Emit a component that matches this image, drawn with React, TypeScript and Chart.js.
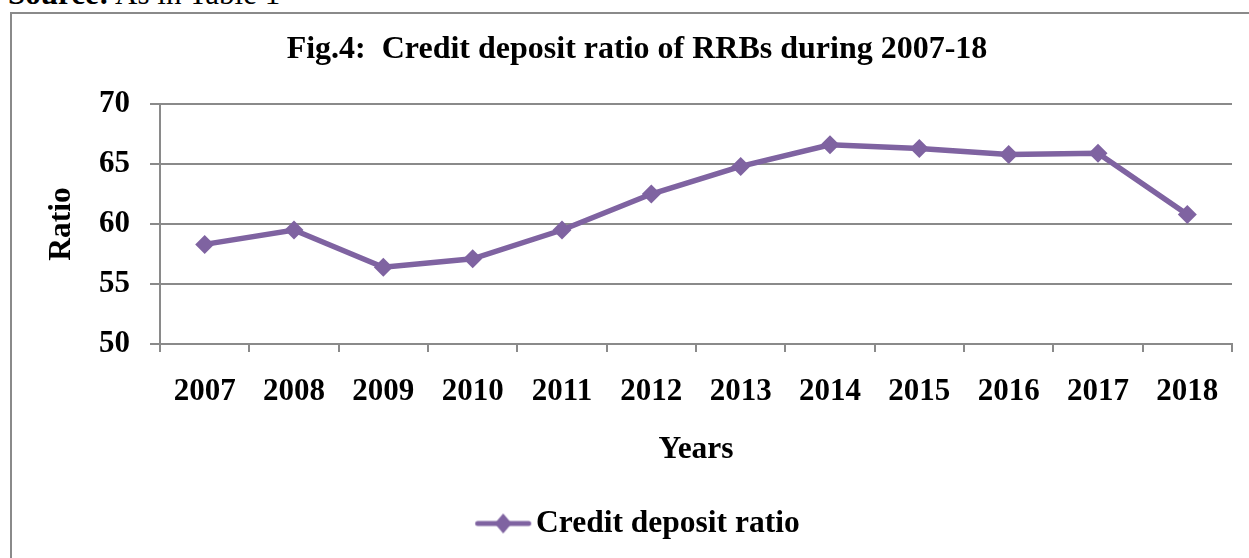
import React, { useEffect, useRef } from 'react';
import { Chart, registerables } from 'chart.js';

Chart.register(...registerables);

const years = ['2007', '2008', '2009', '2010', '2011', '2012', '2013', '2014', '2015', '2016', '2017', '2018'];
const creditDepositRatio = [58.3, 59.5, 56.4, 57.1, 59.5, 62.5, 64.8, 66.6, 66.3, 65.8, 65.9, 60.8];
const yTickValues = [50, 55, 60, 65, 70];
const seriesLabel = 'Credit deposit ratio';
const chartTitle = 'Fig.4:  Credit deposit ratio of RRBs during 2007-18';
const xAxisTitle = 'Years';
const yAxisTitle = 'Ratio';
const sourceBold = 'Source:';
const sourceRest = ' As in Table 1';

const FONT_FAMILY = '"Liberation Serif", "Times New Roman", Times, serif';
const PURPLE = '#7F63A1';
const GRID = '#8a8a8a';
const CANVAS_W = 1250;
const CANVAS_H = 544;

function makeLegendImage(): HTMLCanvasElement {
  const img = document.createElement('canvas');
  img.width = 72;
  img.height = 22;
  const c = img.getContext('2d')!;
  c.strokeStyle = PURPLE;
  c.lineWidth = 5;
  c.lineCap = 'round';
  c.beginPath();
  c.moveTo(16.4, 11);
  c.lineTo(67.4, 11);
  c.stroke();
  c.fillStyle = PURPLE;
  c.beginPath();
  c.moveTo(41.9, 1);
  c.lineTo(50.4, 11);
  c.lineTo(41.9, 21);
  c.lineTo(33.4, 11);
  c.closePath();
  c.fill();
  return img;
}

export default function App() {
  const canvasRef = useRef<HTMLCanvasElement | null>(null);

  useEffect(() => {
    if (!canvasRef.current) return;
    const legendImg = makeLegendImage();
    const tickFont = { family: FONT_FAMILY, size: 31, weight: 'bold' as const };
    const titleFont = { family: FONT_FAMILY, size: 32, weight: 'bold' as const };
    const labelFont = { family: FONT_FAMILY, size: 31.5, weight: 'bold' as const };

    const chart = new Chart(canvasRef.current, {
      type: 'line',
      data: {
        labels: years,
        datasets: [
          {
            label: seriesLabel,
            data: creditDepositRatio,
            borderColor: PURPLE,
            backgroundColor: PURPLE,
            borderWidth: 5.5,
            tension: 0,
            pointStyle: 'rectRot',
            pointRadius: 9.5,
            pointHoverRadius: 9.5,
            pointBackgroundColor: PURPLE,
            pointBorderColor: PURPLE,
            pointBorderWidth: 0,
            yAxisID: 'y',
          },
        ],
      },
      options: {
        responsive: false,
        animation: false,
        events: [],
        layout: { padding: { left: 0, right: 0, top: 0, bottom: 8.75 } },
        scales: {
          x: {
            type: 'category',
            offset: true,
            grid: {
              display: true,
              drawOnChartArea: false,
              drawTicks: true,
              tickLength: 8,
              offset: true,
              color: GRID,
              lineWidth: 2,
            },
            border: { display: true, color: GRID, width: 2 },
            ticks: {
              font: tickFont,
              color: '#000',
              padding: 21,
              maxRotation: 0,
              minRotation: 0,
              autoSkip: false,
            },
            title: {
              display: true,
              text: xAxisTitle,
              font: labelFont,
              color: '#000',
              padding: { top: 0, bottom: 28.85 },
            },
            afterFit: (s: any) => {
              s.height = 153.75;
            },
          },
          y: {
            type: 'linear',
            position: 'left',
            min: 50,
            max: 70,
            afterBuildTicks: (axis: any) => {
              axis.ticks = yTickValues.map((v) => ({ value: v }));
            },
            grid: {
              color: GRID,
              lineWidth: 2,
              drawTicks: true,
              tickLength: 10,
            },
            border: { display: true, color: GRID, width: 2 },
            ticks: {
              font: tickFont,
              color: '#000',
              padding: 20,
            },
            title: {
              display: true,
              text: yAxisTitle,
              font: labelFont,
              color: '#000',
              padding: { top: 31.3, bottom: 0 },
            },
            afterFit: (s: any) => {
              s.width = 148;
            },
          },
          spacer: {
            type: 'linear',
            position: 'right',
            min: 0,
            max: 1,
            display: true,
            grid: { display: false, drawTicks: false },
            border: { display: false },
            ticks: { display: false },
            afterFit: (s: any) => {
              s.width = 30;
            },
          },
        },
        plugins: {
          title: {
            display: true,
            text: chartTitle,
            font: titleFont,
            color: '#000',
            padding: { top: 16.4, bottom: 35.2 },
          },
          legend: {
            display: true,
            position: 'bottom',
            labels: {
              usePointStyle: true,
              pointStyleWidth: 46,
              padding: 10,
              font: labelFont,
              color: '#000',
              generateLabels: () => [
                {
                  text: seriesLabel,
                  pointStyle: legendImg as any,
                  fillStyle: PURPLE,
                  strokeStyle: PURPLE,
                  lineWidth: 1,
                  hidden: false,
                  datasetIndex: 0,
                },
              ],
            },
          },
          tooltip: { enabled: false },
        },
      },
    });

    return () => {
      chart.destroy();
    };
  }, []);

  return (
    <div
      style={{
        position: 'fixed',
        left: 0,
        top: 0,
        right: 0,
        bottom: 0,
        overflow: 'hidden',
        background: '#fff',
      }}
    >
      <div
        style={{
          position: 'absolute',
          left: 8,
          top: -22,
          fontFamily: FONT_FAMILY,
          fontSize: 31,
          lineHeight: '31px',
          whiteSpace: 'nowrap',
          color: '#000',
        }}
      >
        <b>{sourceBold}</b>
        {sourceRest}
      </div>
      <div
        style={{
          position: 'absolute',
          left: 10,
          top: 12,
          width: 1280,
          height: 620,
          borderLeft: `2px solid ${GRID}`,
          borderTop: `2px solid ${GRID}`,
          boxSizing: 'content-box',
        }}
      >
        <canvas
          ref={canvasRef}
          width={CANVAS_W}
          height={CANVAS_H}
          style={{ display: 'block', width: CANVAS_W, height: CANVAS_H }}
        />
      </div>
    </div>
  );
}
